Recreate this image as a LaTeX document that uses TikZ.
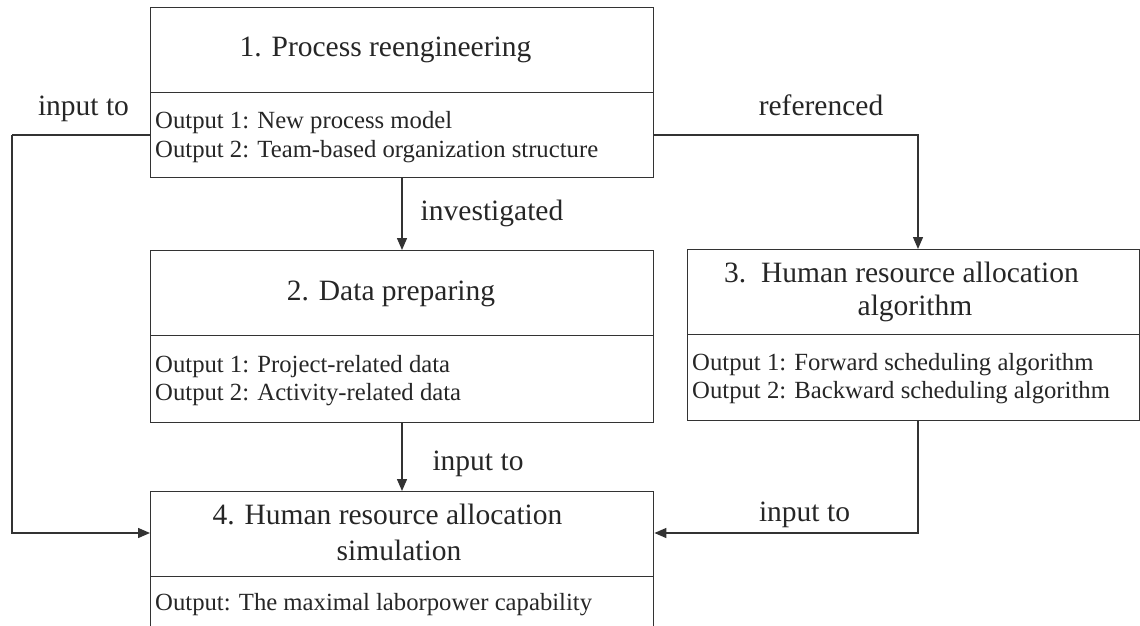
\documentclass[tikz,border=0pt]{standalone}
\usepackage{fontspec}
\setmainfont{Liberation Serif}
\usetikzlibrary{arrows.meta}
\tikzset{
  box/.style={draw=black!80, line width=1.4pt, minimum width=#1, inner sep=0pt, anchor=north west},
  titletxt/.style={anchor=base, inner sep=0pt, text=black!85, font=\fontsize{29.5}{33}\selectfont},
  outtxt/.style={anchor=base west, inner sep=0pt, text=black!85, font=\fontsize{24.7}{28}\selectfont},
  lbltxt/.style={anchor=base, inner sep=0pt, text=black!85, font=\fontsize{29.5}{33}\selectfont},
  conn/.style={draw=black!80, line width=1.4pt, -{Triangle[length=12pt,width=10pt]}},
  plainline/.style={draw=black!80, line width=1.4pt}
}
\begin{document}
\begin{tikzpicture}[x=1pt,y=-1pt]
\useasboundingbox (0,0) rectangle (1140,626);
% box 1
\node[box=503pt, minimum height=85pt] (b1t) at (150,7) {};
\node[box=503pt, minimum height=85pt] (b1o) at (150,92) {};
\node[titletxt] (t1) at (385.5,57) {1. Process reengineering};
\node[outtxt] (o11) at (155,128) {Output 1: New process model};
\node[outtxt] (o12) at (155,157) {Output 2: Team-based organization structure};
% box 2
\node[box=503pt, minimum height=85pt] (b2t) at (150,250) {};
\node[box=503pt, minimum height=87pt] (b2o) at (150,335) {};
\node[titletxt] (t2) at (391,300) {2. Data preparing};
\node[outtxt] (o21) at (155,372) {Output 1: Project-related data};
\node[outtxt] (o22) at (155,400) {Output 2: Activity-related data};
% box 3
\node[box=452pt, minimum height=85pt] (b3t) at (687,249) {};
\node[box=452pt, minimum height=86pt] (b3o) at (687,334) {};
\node[titletxt] (t31) at (901.5,282) {3.\ \ Human resource allocation};
\node[titletxt] (t32) at (915,315) {algorithm};
\node[outtxt] (o31) at (692,370) {Output 1: Forward scheduling algorithm};
\node[outtxt] (o32) at (692,398) {Output 2: Backward scheduling algorithm};
% box 4
\node[box=503pt, minimum height=85pt] (b4t) at (150,491) {};
\node[box=503pt, minimum height=60pt] (b4o) at (150,576) {};
\node[titletxt] (t41) at (387.5,524) {4. Human resource allocation};
\node[titletxt] (t42) at (399,560) {simulation};
\node[outtxt] (o41) at (155,610) {Output: The maximal laborpower capability};
% connector helpers
\coordinate (l1) at (12,135);
\coordinate (l2) at (12,533);
\coordinate (r1) at (918,135);
\coordinate (r2) at (918,533);
\coordinate (mx) at (402,0);
% connectors
\draw[plainline] (b1o.west |- l1) -- (l1);
\draw[conn] (l1) -- (l2) -- (l2 -| b4t.west);
\draw[conn] (b1o.east |- r1) -- (r1) -- (r1 |- b3t.north);
\draw[conn] (b1o.south -| mx) -- (b2t.north -| mx);
\draw[conn] (b2o.south -| mx) -- (b4t.north -| mx);
\draw[conn] (b3o.south -| r2) -- (r2) -- (r2 -| b4t.east);
% labels
\node[lbltxt] (lab1) at (83.5,115) {input to};
\node[lbltxt] (lab2) at (821,115) {referenced};
\node[lbltxt] (lab3) at (492,220) {investigated};
\node[lbltxt] (lab4) at (478,470) {input to};
\node[lbltxt] (lab5) at (804.5,521) {input to};
\end{tikzpicture}
\end{document}
